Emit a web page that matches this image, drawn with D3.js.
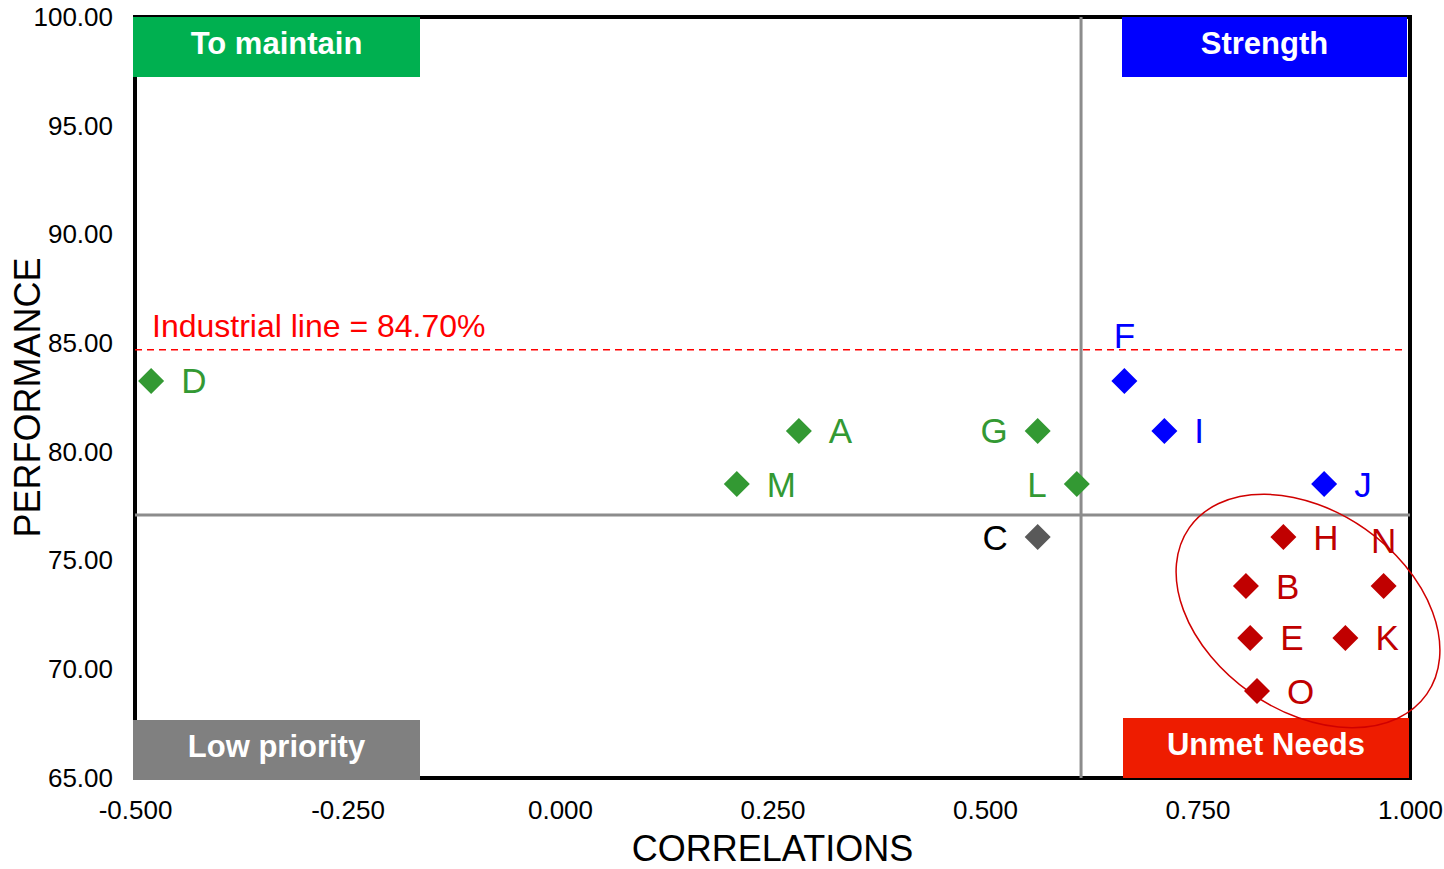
<!DOCTYPE html>
<html>
<head>
<meta charset="utf-8">
<script src="https://cdn.jsdelivr.net/npm/d3@7"></script>
<style>
  body { margin: 0; background: #fff; }
  text { font-family: "Liberation Sans", Arial, sans-serif; }
</style>
</head>
<body>
<div id="app"></div>
<script>
// data
const labels = ['A', 'B', 'C', 'D', 'E', 'F', 'G', 'H', 'I', 'J', 'K', 'L', 'M', 'N', 'O']
const correlations = [0.281, 0.807, 0.562, -0.481, 0.812, 0.664, 0.562, 0.851, 0.711, 0.899, 0.924, 0.608, 0.208, 0.969, 0.820]
const performance = [80.96, 73.83, 76.08, 83.26, 71.44, 83.26, 80.96, 76.08, 80.96, 78.52, 71.44, 78.52, 78.52, 73.83, 69.00]
const groups = ['maintain', 'unmet', 'low', 'maintain', 'unmet', 'strength', 'maintain', 'unmet', 'strength', 'strength', 'unmet', 'maintain', 'maintain', 'unmet', 'unmet']
const labelSide = ['right', 'right', 'left', 'right', 'right', 'top', 'left', 'right', 'right', 'right', 'right', 'left', 'right', 'top', 'right']

const xTicks = [-0.5, -0.25, 0, 0.25, 0.5, 0.75, 1.0]
const yTicks = [65, 70, 75, 80, 85, 90, 95, 100]
const splitX = 0.613      // correlation divider
const splitY = 77.1       // performance divider
const industrialLine = 84.7
const circledCenter = [0.880, 72.68]

const quadrants = [
  { name: 'To maintain', color: '#00B050', corner: 'tl' },
  { name: 'Strength', color: '#0000FF', corner: 'tr' },
  { name: 'Low priority', color: '#808080', corner: 'bl' },
  { name: 'Unmet Needs', color: '#EE1C00', corner: 'br' }
]

const markerColor = { maintain: '#339933', strength: '#0000FF', unmet: '#C00000', low: '#595959' }
const textColor = { maintain: '#339933', strength: '#0000FF', unmet: '#C00000', low: '#000000' }

const dataset = labels.map((d, i) => ({
  label: d, x: correlations[i], y: performance[i], group: groups[i], side: labelSide[i]
}))

// layout
const width = 1444
const height = 869
const plot = { left: 135, top: 17, right: 1410, bottom: 778 }

const svg = d3.select('#app')
  .append('svg')
    .attr('width', width)
    .attr('height', height)

const xScale = d3.scaleLinear().domain([-0.5, 1]).range([plot.left, plot.right])
const yScale = d3.scaleLinear().domain([65, 100]).range([plot.bottom, plot.top])

// hyphen minus like Excel, not the unicode one
const fmt = spec => v => d3.format(spec)(v).replace('\u2212', '-')

// axes
const yAxis = svg.append('g')
  .attr('transform', `translate(${plot.left}, 0)`)
  .call(d3.axisLeft(yScale).tickValues(yTicks).tickFormat(fmt('.2f')).tickSize(0).tickPadding(22))
yAxis.select('.domain').remove()
yAxis.selectAll('text').attr('font-size', 26).attr('fill', '#000').style('font-family', '"Liberation Sans", Arial, sans-serif')

const xAxis = svg.append('g')
  .attr('transform', `translate(0, ${plot.bottom})`)
  .call(d3.axisBottom(xScale).tickValues(xTicks).tickFormat(fmt('.3f')).tickSize(0).tickPadding(23))
xAxis.select('.domain').remove()
xAxis.selectAll('text').attr('font-size', 26).attr('fill', '#000').style('font-family', '"Liberation Sans", Arial, sans-serif')

// axis titles
svg.append('text')
  .attr('x', (plot.left + plot.right) / 2)
  .attr('y', 861)
  .attr('text-anchor', 'middle')
  .attr('font-size', 36)
  .text('CORRELATIONS')

svg.append('text')
  .attr('transform', `translate(40, ${(plot.top + plot.bottom) / 2}) rotate(-90)`)
  .attr('text-anchor', 'middle')
  .attr('font-size', 36)
  .text('PERFORMANCE')

// frame
svg.append('rect')
  .attr('x', plot.left)
  .attr('y', plot.top)
  .attr('width', plot.right - plot.left)
  .attr('height', plot.bottom - plot.top)
  .attr('fill', 'none')
  .attr('stroke', '#000')
  .attr('stroke-width', 4)

// quadrant dividers
svg.append('line')
  .attr('x1', xScale(splitX)).attr('x2', xScale(splitX))
  .attr('y1', plot.top).attr('y2', plot.bottom)
  .attr('stroke', '#8c8c8c').attr('stroke-width', 3)
svg.append('line')
  .attr('x1', plot.left).attr('x2', plot.right)
  .attr('y1', yScale(splitY)).attr('y2', yScale(splitY))
  .attr('stroke', '#8c8c8c').attr('stroke-width', 3)

// industrial line
svg.append('line')
  .attr('x1', plot.left).attr('x2', plot.right - 4)
  .attr('y1', yScale(industrialLine)).attr('y2', yScale(industrialLine))
  .attr('stroke', '#FF0000').attr('stroke-width', 1.5)
  .attr('stroke-dasharray', '7,5')
svg.append('text')
  .attr('x', 152)
  .attr('y', yScale(industrialLine) - 13)
  .attr('font-size', 32)
  .attr('fill', '#FF0000')
  .text(`Industrial line = ${industrialLine.toFixed(2)}%`)

// quadrant boxes
const boxH = 60
const boxPos = {
  tl: [133, plot.top, 287],
  tr: [1122, plot.top, 285],
  bl: [133, 720, 287],
  br: [1123, 718, 286]
}
const boxes = svg.selectAll('.quad')
  .data(quadrants)
  .join('g')
    .classed('quad', true)
    .attr('transform', d => `translate(${boxPos[d.corner][0]}, ${boxPos[d.corner][1]})`)
boxes.append('rect')
  .attr('width', d => boxPos[d.corner][2])
  .attr('height', boxH)
  .attr('fill', d => d.color)
boxes.append('text')
  .attr('x', d => boxPos[d.corner][2] / 2)
  .attr('y', 37)
  .attr('text-anchor', 'middle')
  .attr('font-size', 31)
  .attr('font-weight', 'bold')
  .attr('fill', '#fff')
  .text(d => d.name)

// circled group
svg.append('ellipse')
  .attr('transform', `translate(${xScale(circledCenter[0])}, ${yScale(circledCenter[1])}) rotate(35)`)
  .attr('rx', 145)
  .attr('ry', 100)
  .attr('fill', 'none')
  .attr('stroke', '#D00000')
  .attr('stroke-width', 1.5)

// points
const symbol = d3.symbol().type(d3.symbolSquare).size(338)
const dots = svg.selectAll('.dot')
  .data(dataset)
  .join('path')
    .classed('dot', true)
    .attr('d', symbol)
    .attr('transform', d => `translate(${xScale(d.x)}, ${yScale(d.y)}) rotate(45)`)
    .attr('fill', d => markerColor[d.group])

svg.selectAll('.pt-label')
  .data(dataset)
  .join('text')
    .classed('pt-label', true)
    .attr('x', d => d.side === 'right' ? xScale(d.x) + 30 : d.side === 'left' ? xScale(d.x) - 30 : xScale(d.x))
    .attr('y', d => d.side === 'top' ? yScale(d.y) - 33 : yScale(d.y) + 12.5)
    .attr('text-anchor', d => d.side === 'right' ? 'start' : d.side === 'left' ? 'end' : 'middle')
    .attr('font-size', 35)
    .attr('fill', d => textColor[d.group])
    .text(d => d.label)
</script>
</body>
</html>
